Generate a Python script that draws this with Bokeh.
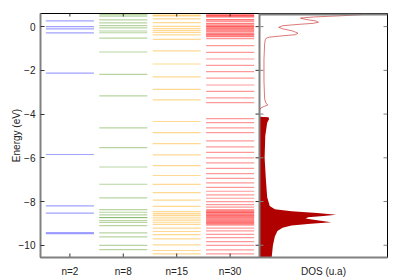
import math
from bokeh.plotting import figure
from bokeh.models import FixedTicker, Range1d, ColumnDataSource, Span
from bokeh.embed import file_html
from bokeh.resources import INLINE

# ---------------- data ----------------
categories = ["n=2", "n=8", "n=15", "n=30"]
dos_label = "DOS (u.a)"

levels_n2 = [0.26, 0.0, -0.10, -0.29, -2.13, -5.85, -8.20, -8.53, -9.42, -9.47]

levels_n8 = [0.55, 0.48, 0.31, 0.17, 0.05, -0.06, -0.20, -0.28, -0.53, -1.16,
             -2.18, -3.17, -4.63, -5.53, -6.42, -7.21, -7.83, -8.37, -8.49,
             -8.61, -8.73, -8.74, -8.87, -8.96, -9.10, -9.43, -9.62, -10.01, -10.20]

levels_n15 = [0.53, 0.49, 0.35, 0.18, 0.01, -0.09, -0.18, -0.27, -0.38, -0.58,
              -1.11, -1.71, -2.30, -2.87, -3.35, -4.34, -4.85, -5.35, -5.87,
              -6.36, -6.81, -7.22, -7.59, -7.94, -8.22, -8.46, -8.55, -8.63,
              -8.72, -8.80, -8.88, -8.97, -9.05, -9.22, -9.37, -9.51, -9.71,
              -9.98, -10.24, -10.39]

levels_n30 = [0.55, 0.52, 0.50, 0.47, 0.43, 0.32, 0.30, 0.23, 0.14, 0.12, 0.06,
              0.01, 0.0, -0.05, -0.09, -0.13, -0.18, -0.22, -0.28, -0.32, -0.36,
              -0.39, -0.43, -0.46, -0.55, -0.87, -1.18, -1.48, -1.77, -2.06,
              -2.36, -2.67, -2.96, -3.26, -3.48, -4.21, -4.39, -4.63, -4.85,
              -5.23, -5.50, -5.75, -6.00, -6.23, -6.48, -6.72, -6.94, -7.15,
              -7.35, -7.53, -7.70, -7.85, -8.00, -8.14, -8.26, -8.37, -8.42,
              -8.46, -8.50, -8.52, -8.56, -8.60, -8.63, -8.67, -8.70, -8.74,
              -8.78, -8.83, -8.88, -8.90, -8.94, -8.97, -9.00, -9.04, -9.08,
              -9.22, -9.34, -9.50, -9.65, -9.83, -10.01, -10.21, -10.39]

# DOS: unoccupied part (thin line) and occupied part (filled)
dos_unocc_E = [0.58, 0.55, 0.50, 0.44, 0.39, 0.33, 0.26, 0.20, 0.15, 0.10, 0.04,
               -0.03, -0.10, -0.20, -0.30, -0.37, -0.42, -0.48, -0.52, -0.60,
               -0.80, -1.50, -2.50, -3.30, -3.50, -3.58, -3.64, -3.72, -3.85]
dos_unocc = [0.83, 0.80, 0.65, 0.42, 0.32, 0.36, 0.44, 0.46, 0.42, 0.30, 0.18,
             0.15, 0.18, 0.26, 0.30, 0.28, 0.18, 0.08, 0.055, 0.045,
             0.04, 0.035, 0.035, 0.04, 0.05, 0.065, 0.04, 0.01, 0.0]

dos_occ_E = [-4.12, -4.15, -4.22, -4.40, -5.00, -6.00, -7.00, -7.80, -8.20,
             -8.35, -8.45, -8.52, -8.60, -8.66, -8.72, -8.78, -8.86, -8.95,
             -9.02, -9.10, -9.20, -9.35, -9.60, -10.00, -10.56]
dos_occ = [0.0, 0.07, 0.075, 0.06, 0.045, 0.04, 0.05, 0.06, 0.08,
           0.12, 0.25, 0.45, 0.60, 0.50, 0.38, 0.36, 0.45, 0.56,
           0.40, 0.25, 0.18, 0.14, 0.12, 0.105, 0.095]

energy_ticks = [-10, -8, -6, -4, -2, 0]

level_sets = [levels_n2, levels_n8, levels_n15, levels_n30]
colors = ["#6f6fff", "#5f9f2f", "#ffaa10", "#ff0000"]
alphas = [0.65, 0.45, 0.45, 0.40]

# ---------------- layout constants ----------------
E_MIN, E_MAX = -10.56, 0.60
FONT = "Liberation Sans"
GRAY = "#808080"
TXT = "#222222"
LEFT_PX, DOS_PX = 219.0, 128.0          # widths of the two panels
X0, SEP = -0.55, 3.55                   # level panel range
unit = (SEP - X0) / LEFT_PX
X1 = SEP + DOS_PX * unit
frac = LEFT_PX / (LEFT_PX + DOS_PX)
DOS_START = -frac / (1 - frac)
DOS_CENTER = SEP + 0.5 * DOS_PX * unit

p = figure(width=400, height=280, x_range=Range1d(X0, X1),
           y_range=Range1d(E_MIN, E_MAX), output_backend="svg",
           toolbar_location=None, min_border_left=40, min_border_right=13,
           min_border_top=13, min_border_bottom=23,
           outline_line_color="black", outline_line_width=1)
p.extra_x_ranges = {"dos": Range1d(DOS_START, 1.0)}
p.grid.visible = False

# energy levels
HALF = 0.45
for i, (lv, c, a) in enumerate(zip(level_sets, colors, alphas)):
    src = ColumnDataSource(dict(x0=[i - HALF] * len(lv), x1=[i + HALF] * len(lv), y=lv))
    p.segment(x0="x0", x1="x1", y0="y", y1="y", source=src,
              line_color=c, line_alpha=a, line_width=1.2)

# DOS
p.harea(y=dos_occ_E, x1=[0] * len(dos_occ), x2=dos_occ, fill_color="#b00000",
        x_range_name="dos")
p.line(x=dos_unocc, y=dos_unocc_E, line_color="#c81e1e", line_alpha=0.6,
       line_width=1, x_range_name="dos")

# DOS panel frame: gray top, gray separator
p.line(x=[0, 1], y=[E_MAX, E_MAX], line_color=GRAY, line_width=4, x_range_name="dos")
p.add_layout(Span(location=SEP, dimension="height", line_color=GRAY, line_width=2))

# ticks drawn inside the frame
n_cat = len(categories)
cat_x = list(range(n_cat))
p.ray(x=cat_x, y=[E_MAX] * n_cat, length=3, angle=-math.pi / 2,
      length_units="screen", line_color="#333333", line_width=1)
p.ray(x=cat_x, y=[E_MIN] * n_cat, length=4, angle=math.pi / 2,
      length_units="screen", line_color="#333333", line_width=1)
n_e = len(energy_ticks)
p.ray(x=[SEP] * n_e, y=energy_ticks, length=4, angle=math.pi,
      length_units="screen", line_color="#333333", line_width=1)
p.ray(x=[SEP] * n_e, y=energy_ticks, length=4, angle=0,
      length_units="screen", line_color=GRAY, line_width=1)
p.ray(x=[1.0] * n_e, y=energy_ticks, length=4, angle=math.pi,
      length_units="screen", line_color=GRAY, line_width=1, x_range_name="dos")

# bottom axis: category labels + DOS label
xa = p.xaxis[0]
xa.ticker = FixedTicker(ticks=cat_x + [DOS_CENTER])
overrides = {i: c for i, c in enumerate(categories)}
overrides[DOS_CENTER] = dos_label
xa.major_label_overrides = overrides
xa.axis_line_color = GRAY
xa.axis_line_width = 2
xa.major_tick_in = 0
xa.major_tick_out = 0
xa.major_tick_line_color = None
xa.minor_tick_line_color = None
xa.major_label_standoff = 8
xa.major_label_text_font = FONT
xa.major_label_text_font_size = "10px"
xa.major_label_text_color = TXT

# left axis
ya = p.yaxis[0]
ya.ticker = FixedTicker(ticks=energy_ticks)
ya.axis_line_color = GRAY
ya.axis_line_width = 2
ya.major_tick_in = 4
ya.major_tick_out = 0
ya.major_tick_line_color = "#333333"
ya.minor_tick_line_color = None
ya.major_label_standoff = 5
ya.major_label_text_font = FONT
ya.major_label_text_font_size = "10px"
ya.major_label_text_color = TXT
ya.axis_label = "Energy (eV)"
ya.axis_label_text_font = FONT
ya.axis_label_text_font_size = "10px"
ya.axis_label_text_font_style = "normal"
ya.axis_label_text_color = TXT
ya.axis_label_standoff = -6

open("out.html", "w").write(file_html(p, INLINE))
